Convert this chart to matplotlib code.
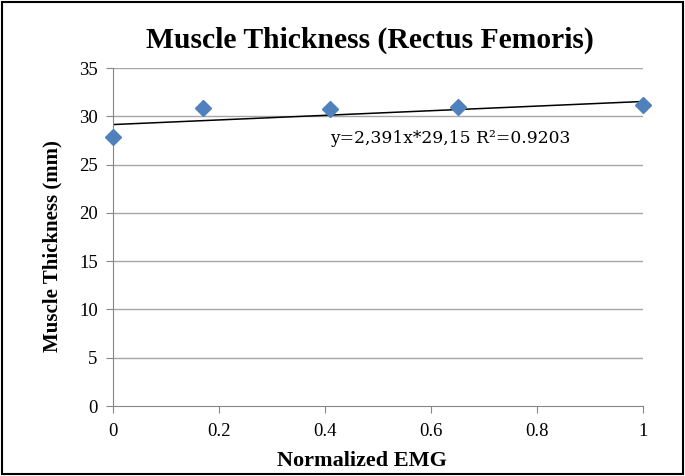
import numpy as np
import matplotlib
matplotlib.use('Agg')
import matplotlib.pyplot as plt
from matplotlib.patches import Rectangle

# valores
emg = [0.0, 0.17, 0.41, 0.65, 1.0]
espessura = [27.9, 30.9, 30.8, 31.0, 31.2]
declive = 2.391
ordenada = 29.15
y_ticks = [0, 5, 10, 15, 20, 25, 30, 35]
x_ticks = [0, 0.2, 0.4, 0.6, 0.8, 1]
x_labels = ['0', '0.2', '0.4', '0.6', '0.8', '1']

plt.rcParams['font.family'] = ['Liberation Serif', 'DejaVu Serif']

fig = plt.figure(figsize=(6.85, 4.76), dpi=100)
ax = fig.add_axes([0.165, 0.147, 0.774, 0.71])

for y in y_ticks[1:]:
    ax.axhline(y, color='#a6a6a6', linewidth=1, zorder=0)

ax.plot(emg, espessura, linestyle='none', marker='D', markersize=8.5,
        color='#4f81bd', zorder=3, clip_on=False)

xs = np.array([0, 1])
ax.plot(xs, declive * xs + ordenada, color='black', linewidth=1.1, zorder=2)

ax.text(0.41, 27.75, 'y=2,391x*29,15 R²=0.9203', fontsize=12.3,
        fontfamily=['DejaVu Serif'], ha='left', va='center')

ax.set_xlim(0, 1)
ax.set_ylim(0, 35)
ax.set_xticks(x_ticks)
ax.set_xticklabels(x_labels)
ax.set_yticks(y_ticks)
ax.tick_params(axis='both', labelsize=13.5, color='#868686', length=5, direction='out')
ax.tick_params(axis='x', pad=7)
ax.tick_params(axis='y', pad=6)

for lado in ['top', 'right']:
    ax.spines[lado].set_visible(False)
for lado in ['left', 'bottom']:
    ax.spines[lado].set_color('#868686')

fig.text(0.529, 0.032, 'Normalized EMG', fontsize=16, fontweight='bold',
         ha='center', va='center')
fig.text(0.076, 0.483, 'Muscle Thickness (mm)', fontsize=15, fontweight='bold',
         ha='center', va='center', rotation=90)
fig.text(0.54, 0.916, 'Muscle Thickness (Rectus Femoris)', fontsize=21.3,
         fontweight='bold', ha='center', va='center')

fig.patches.append(Rectangle((0.003, 0.004), 0.994, 0.992, transform=fig.transFigure,
                             fill=False, edgecolor='black', linewidth=1.5))

fig.savefig('out.png', dpi=100)
